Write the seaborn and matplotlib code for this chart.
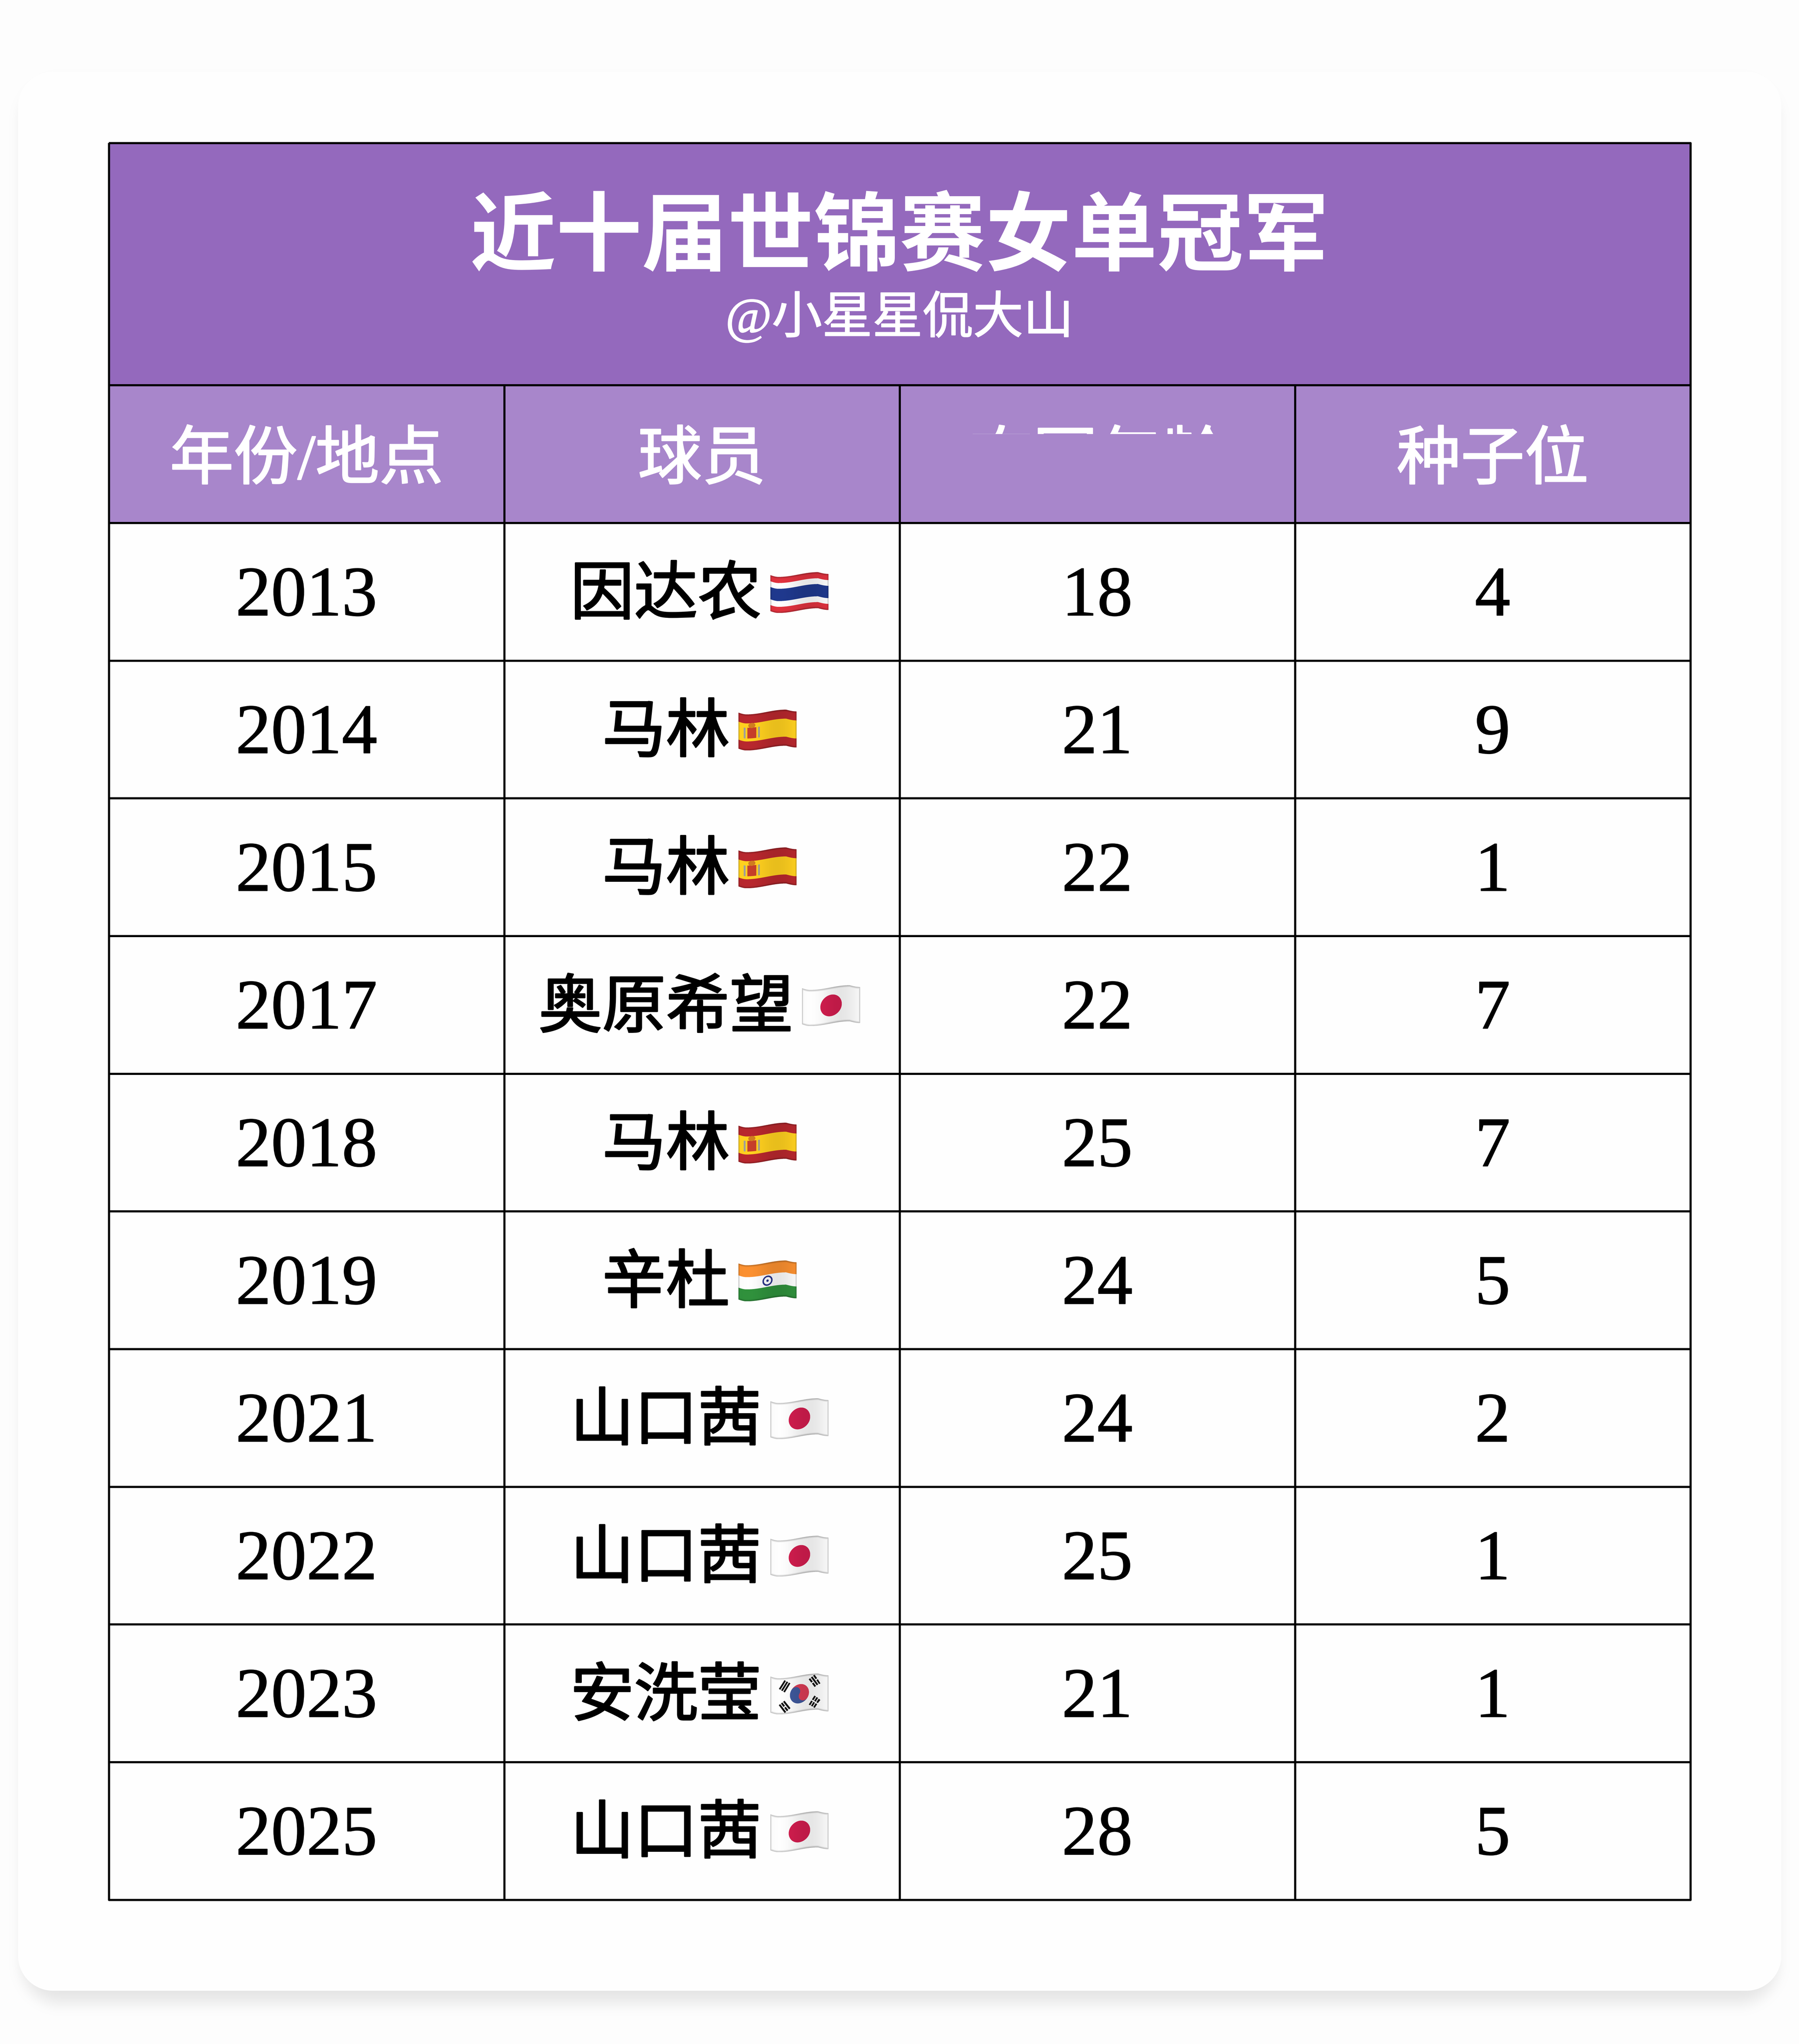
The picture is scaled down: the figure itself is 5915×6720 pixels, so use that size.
import numpy as np
import seaborn as sns
import matplotlib
matplotlib.use('Agg')
import matplotlib.pyplot as plt
import matplotlib.patheffects as pe
from matplotlib.colors import ListedColormap
from matplotlib.transforms import Bbox

title = '近十届世锦赛女单冠军'
subtitle = '@小星星侃大山'
# the third header is mostly wiped in the picture, only the tops of the glyphs remain
columns = ['年份/地点', '球员', '夺冠年龄', '种子位']
years = [2013, 2014, 2015, 2017, 2018, 2019, 2021, 2022, 2023, 2025]
players = ['因达农', '马林', '马林', '奥原希望', '马林', '辛杜', '山口茜', '山口茜', '安洗莹', '山口茜']
flags = ['TH', 'ES', 'ES', 'JP', 'ES', 'IN', 'JP', 'JP', 'KR', 'JP']
ages = [18, 21, 22, 22, 25, 24, 24, 25, 21, 28]
seeds = [4, 9, 1, 7, 7, 5, 2, 1, 1, 5]

# layout numbers are in reference pixels, S shrinks the output under the 40M pixel limit
W, H = 6036, 6858
S = 0.98
DPI = 300 * S
LEFT, RIGHT = 365, 5671
TOP, HEAD_TOP, BODY_TOP, BOTTOM = 480, 1293, 1755, 6374
LW = 5.5 * 72 / 300
FLAG_W, FLAG_H, WAVE = 195, 121, 8

sns.set_style('white')
plt.rcParams['font.family'] = ['Liberation Serif', 'Noto Sans CJK SC', 'DejaVu Sans']


def rounded_box(x, y, x0, x1, y0, y1, r):
    cx, cy = (x0 + x1) / 2, (y0 + y1) / 2
    qx = np.abs(x - cx) - (x1 - x0) / 2 + r
    qy = np.abs(y - cy) - (y1 - y0) / 2 + r
    out = np.hypot(np.maximum(qx, 0), np.maximum(qy, 0))
    return out + np.minimum(np.maximum(qx, qy), 0) - r


def card_background():
    x = (np.arange(int(W * S), dtype=np.float32) / S)[None, :]
    y = (np.arange(int(H * S), dtype=np.float32) / S)[:, None]
    shadow = rounded_box(x, y, 90, 5946, 290, 6703, 118)
    t = np.clip((shadow + 30) / 90, 0, 1)
    grey = 253 - 23 * (1 - t * t * (3 - 2 * t))
    card = rounded_box(x, y, 60, 5976, 240, 6678, 118)
    m = np.clip(0.5 - card, 0, 1)
    grey = grey * (1 - m) + 254 * m
    return np.repeat(grey[:, :, None], 3, axis=2).astype(np.uint8)


def wave(u):
    mid = 8 * np.cos(np.pi * (u - 0.14) / 0.68)
    left = 2 + 6 * np.sin(np.pi / 2 * u / 0.14)
    right = -8 + 6 * np.sin(np.pi / 2 * (u - 0.82) / 0.18)
    return np.where(u < 0.14, left, np.where(u > 0.82, right, mid))


def flag_colours(code, px, py):
    # px, py are pixels on the flat flag
    v = py / FLAG_H
    rgb = np.ones(px.shape + (3,)) * np.array([242, 242, 242])
    if code == 'TH':
        rgb[(v < 0.17) | (v > 0.83)] = (214, 48, 60)
        rgb[(v > 0.33) & (v < 0.67)] = (30, 54, 135)
    elif code == 'ES':
        rgb[:] = (176, 38, 44)
        rgb[(v > 0.25) & (v < 0.75)] = (245, 200, 30)
        ex, ey = 0.23 * FLAG_W, 0.52 * FLAG_H
        rgb[(np.abs(px - ex) < 15) & (np.abs(py - ey) < 18)] = (190, 60, 40)
        rgb[(np.abs(px - ex + 24) < 3) & (np.abs(py - ey) < 18)] = (150, 150, 150)
        rgb[(np.abs(px - ex - 24) < 3) & (np.abs(py - ey) < 18)] = (150, 150, 150)
        rgb[np.hypot(px - ex, (py - ey + 25) * 1.4) < 12] = (200, 120, 30)
    elif code == 'JP':
        rgb[np.hypot(px - FLAG_W / 2, py - FLAG_H / 2) < 36] = (200, 28, 75)
    elif code == 'IN':
        rgb[v < 0.33] = (240, 138, 46)
        rgb[v > 0.67] = (46, 139, 58)
        d = np.hypot(px - FLAG_W / 2, py - FLAG_H / 2)
        rgb[(d < 17) & (d > 12)] = (40, 50, 130)
        rgb[d < 4] = (40, 50, 130)
    elif code == 'KR':
        a = np.radians(32)
        dx, dy = px - FLAG_W / 2, py - FLAG_H / 2
        rx = dx * np.cos(a) + dy * np.sin(a)
        ry = -dx * np.sin(a) + dy * np.cos(a)
        r = 32
        upper = ry < 0
        upper = np.where(np.hypot(rx + r / 2, ry) < r / 2, False, upper)
        upper = np.where(np.hypot(rx - r / 2, ry) < r / 2, True, upper)
        d = np.hypot(dx, dy)
        rgb[(d < r) & upper] = (208, 58, 82)
        rgb[(d < r) & ~upper] = (60, 84, 148)
        corners = [(0.245, 0.23, '000'), (0.76, 0.2, '101'), (0.245, 0.8, '010'), (0.76, 0.78, '111')]
        for cu, cv, pattern in corners:
            ox, oy = px - cu * FLAG_W, py - cv * FLAG_H
            n = np.array([cu - 0.5, (cv - 0.5) * FLAG_H / FLAG_W])
            n = n / np.hypot(*n)
            along = ox * n[0] + oy * n[1]
            across = -ox * n[1] + oy * n[0]
            for i, broken in enumerate(pattern):
                bar = (np.abs(along - (i - 1) * 9) < 3) & (np.abs(across) < 17)
                if broken == '1':
                    bar &= np.abs(across) > 2
                rgb[bar] = (20, 20, 20)
    return rgb


def make_flag(code, ss=3):
    height = FLAG_H + 2 * WAVE
    out_w, out_h = int(FLAG_W * S), int(height * S)
    px, py = np.meshgrid((np.arange(out_w * ss) + 0.5) / ss / S, (np.arange(out_h * ss) + 0.5) / ss / S)
    u = px / FLAG_W
    fy = py - WAVE - wave(u)
    inside = (fy >= 0) & (fy <= FLAG_H)
    rgb = flag_colours(code, px, fy)
    edge = np.minimum.reduce([fy, FLAG_H - fy, px * 1.5, (FLAG_W - px) * 1.5])
    shade = 1 - 0.28 * np.clip(1 - edge / 7, 0, 1) + 0.05 * np.sin(u * 6.2 + 0.6)
    rgb = np.clip(rgb * shade[:, :, None], 0, 255)
    rgb[~inside] = 254
    small = rgb.reshape(out_h, ss, out_w, ss, 3).mean(axis=(1, 3))
    return small.astype(np.uint8)


def table_axes(fig, top, bottom):
    return fig.add_axes([LEFT / W, 1 - bottom / H, (RIGHT - LEFT) / W, (bottom - top) / H])


def thicken(text, colour, width):
    # no serif CJK face here, a thin outline gets closer to the heavier strokes of the original
    text.set_path_effects([pe.withStroke(linewidth=width, foreground=colour)])


fig = plt.figure(figsize=(W / 300, H / 300), dpi=DPI)
fig.figimage(card_background(), 0, 0, origin='upper', zorder=-5)

# title row
ax_title = table_axes(fig, TOP, HEAD_TOP)
sns.heatmap(np.zeros((1, 1)), ax=ax_title, cmap=ListedColormap(['#9469BD']), cbar=False,
            linewidths=LW, linecolor='black', xticklabels=False, yticklabels=False)
ax_title.text(0.5, 0.405, title, ha='center', va='center', color='white', fontsize=69.2, fontweight='bold')
t_sub = ax_title.text(0.5, 0.722, subtitle, ha='center', va='center', color='white', fontsize=40.5)
thicken(t_sub, 'white', 0.7)

# column headers
ax_head = table_axes(fig, HEAD_TOP, BODY_TOP)
sns.heatmap(np.zeros((1, 4)), ax=ax_head, cmap=ListedColormap(['#A886CB']), cbar=False,
            annot=np.array([columns]), fmt='', annot_kws={'color': 'white', 'fontsize': 51.5},
            linewidths=LW, linecolor='black', xticklabels=False, yticklabels=False)
for t in ax_head.texts:
    t.set_y(0.5 + 30 / (BODY_TOP - HEAD_TOP))
    thicken(t, 'white', 1.0)

# body
labels = np.array([[str(a), b, str(c), str(d)] for a, b, c, d in zip(years, players, ages, seeds)])
ax_body = table_axes(fig, BODY_TOP, BOTTOM)
sns.heatmap(np.zeros(labels.shape), ax=ax_body, cmap=ListedColormap(['#FEFEFE']), cbar=False,
            annot=labels, fmt='', annot_kws={'color': 'black', 'fontsize': 57},
            linewidths=LW, linecolor='black', xticklabels=False, yticklabels=False)

for ax in (ax_title, ax_head, ax_body):
    ax.collections[0].set_clip_on(False)
    ax.axis('off')

col_w = (RIGHT - LEFT) / 4
row_h = (BOTTOM - BODY_TOP) / 10
for t in ax_body.texts:
    t.set_y(t.get_position()[1] + 22 / row_h)
    thicken(t, 'black', 0.6)

fig.canvas.draw()
renderer = fig.canvas.get_renderer()

# keep only the tops of the wiped header
wiped = ax_head.texts[2]
wiped.set_clip_box(Bbox([[0, (H - 1457) * S], [W * S, (H - 1400) * S]]))
wiped.set_clip_on(True)

# player names sit left of the flag, the pair is centred in the cell
gap = 30
flag_images = {code: make_flag(code) for code in set(flags)}
for i, code in enumerate(flags):
    t = ax_body.texts[i * 4 + 1]
    t.set_fontsize(51.3)
    thicken(t, 'black', 1.2)
    width = t.get_window_extent(renderer).width / S
    start = LEFT + 1.5 * col_w - (width + gap + FLAG_W) / 2 - 8
    t.set_ha('left')
    t.set_x((start - LEFT) / col_w)
    img = flag_images[code]
    top = BODY_TOP + (i + 0.5) * row_h - (FLAG_H + 2 * WAVE) / 2 + 2
    fig.figimage(img, int((start + width + gap) * S), int((H - top) * S) - img.shape[0], origin='upper', zorder=10)

fig.savefig('out.png', dpi=DPI)
